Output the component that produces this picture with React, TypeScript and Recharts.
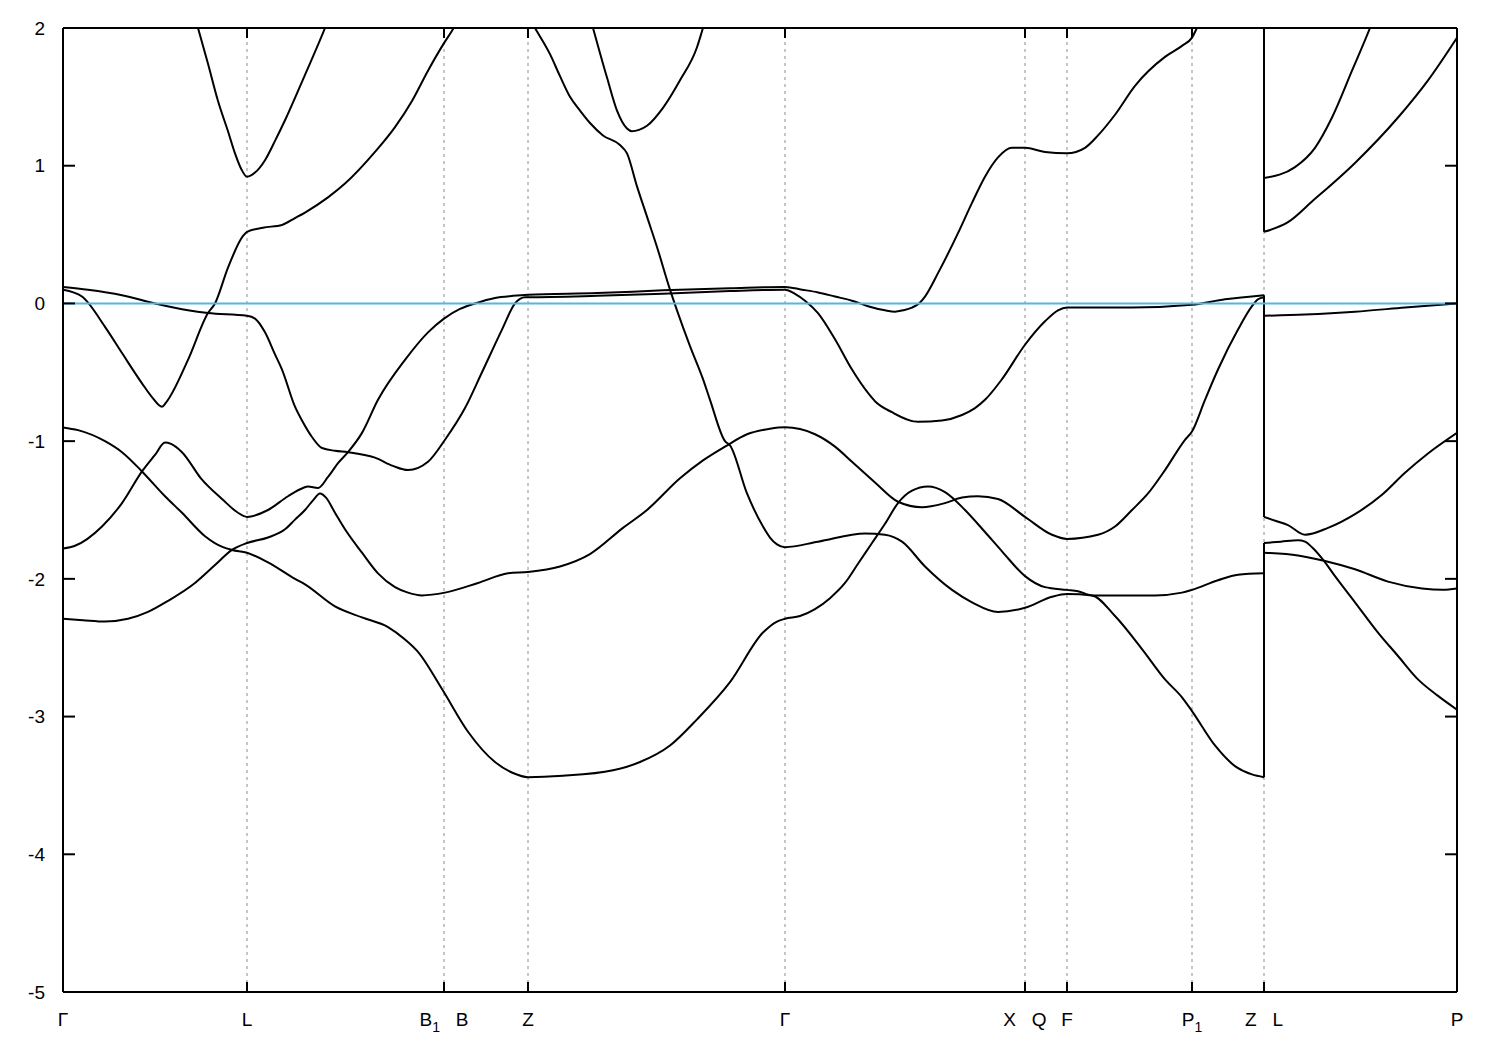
import React from 'react';
import { LineChart, Line, XAxis, YAxis, CartesianGrid, ReferenceLine } from 'recharts';

// ============================================================================
// Data (k in path units along the high-symmetry path, E in eV)
// ============================================================================

type Pt = [number, number];

const kTicks = [0, 184, 381, 465, 722, 962, 1004, 1129, 1201, 1394];
const kLabels = ['Γ', 'L', 'B_1\u00a0\u00a0\u00a0B', 'Z', 'Γ', 'X\u00a0\u00a0\u00a0Q', 'F', 'P_1', 'Z\u00a0\u00a0\u00a0L', 'P'];
const energyTicks = [-5, -4, -3, -2, -1, 0, 1, 2];
const energyRange: [number, number] = [-5, 2];
const kRange: [number, number] = [0, 1394];
const fermiLevel = 0;

// Γ -> ... -> Z (left of the Z|L discontinuity)
const condTop: Pt[] = [
  [115, 2.5], [135, 2.0], [145, 1.74], [155, 1.47], [165, 1.25], [172, 1.09], [178, 0.98], [184, 0.92],
  [192, 0.95], [202, 1.04], [212, 1.18], [222, 1.33], [242, 1.66], [262, 2.0], [275, 2.25]
];

const band1: Pt[] = [
  [0, 0.10], [19, 0.05], [42, -0.17], [59, -0.36], [79, -0.58], [89, -0.68], [99, -0.75], [103, -0.72],
  [125, -0.41], [145, -0.07], [152, 0.0], [165, 0.26], [180, 0.49], [184, 0.52],
  [200, 0.55], [219, 0.57], [232, 0.62], [242, 0.66], [265, 0.77], [282, 0.87], [312, 1.10], [332, 1.28],
  [349, 1.47], [365, 1.69], [381, 1.89], [389, 1.98], [400, 2.12]
];

const band2: Pt[] = [
  [0, 0.12], [25, 0.10], [59, 0.06], [92, 0.0], [125, -0.05], [145, -0.07], [184, -0.09], [192, -0.11],
  [202, -0.21], [212, -0.37], [219, -0.48], [232, -0.75], [239, -0.85], [249, -0.97], [259, -1.05],
  [272, -1.07], [285, -1.08], [312, -1.12], [330, -1.18], [345, -1.21], [365, -1.15], [382, -0.99],
  [402, -0.76], [419, -0.50], [439, -0.19], [452, 0.0], [462, 0.045], [465, 0.045],
  [534, 0.055], [600, 0.07], [667, 0.09], [722, 0.10],
  [732, 0.07], [742, 0.02], [755, -0.07], [772, -0.26], [789, -0.48], [805, -0.65], [812, -0.71],
  [829, -0.79], [855, -0.86], [879, -0.85], [899, -0.81], [912, -0.76], [922, -0.70], [939, -0.55],
  [962, -0.30], [982, -0.13], [995, -0.05], [1004, -0.03], [1069, -0.03], [1129, -0.01], [1162, 0.03],
  [1201, 0.06]
];

const band3: Pt[] = [
  [0, -1.78], [12, -1.76], [39, -1.62], [59, -1.45], [79, -1.22], [92, -1.10], [102, -1.01], [108, -1.02],
  [119, -1.08], [139, -1.28], [159, -1.42], [175, -1.52], [184, -1.55], [205, -1.50], [225, -1.40],
  [240, -1.34], [245, -1.33], [255, -1.34], [265, -1.26], [275, -1.16], [285, -1.08], [299, -0.94],
  [315, -0.70], [342, -0.41], [365, -0.21], [381, -0.11], [397, -0.04], [412, 0.0], [432, 0.04],
  [450, 0.055], [465, 0.063], [534, 0.075], [600, 0.095], [667, 0.11], [722, 0.12],
  [739, 0.10], [755, 0.08], [772, 0.05], [789, 0.02], [805, -0.02], [822, -0.05], [832, -0.06],
  [840, -0.05], [849, -0.03], [856, 0.0], [862, 0.05], [875, 0.22], [895, 0.51], [909, 0.73],
  [922, 0.92], [935, 1.06], [949, 1.13], [962, 1.13], [982, 1.10], [1004, 1.09], [1022, 1.13],
  [1035, 1.22], [1052, 1.37], [1072, 1.58], [1102, 1.79], [1119, 1.87], [1129, 1.93], [1134, 2.0],
  [1160, 2.25], [1201, 2.5]
];

const band4: Pt[] = [
  [0, -2.29], [20, -2.30], [42, -2.31], [65, -2.29], [85, -2.24], [105, -2.16], [132, -2.03],
  [152, -1.90], [169, -1.79], [184, -1.74], [205, -1.70], [222, -1.64], [232, -1.57], [242, -1.50],
  [250, -1.43], [257, -1.38], [263, -1.41], [272, -1.52], [282, -1.64], [299, -1.81], [315, -1.96],
  [332, -2.06], [345, -2.10], [359, -2.12], [382, -2.10], [415, -2.03], [445, -1.96], [465, -1.95],
  [497, -1.91], [527, -1.82], [560, -1.63], [584, -1.50], [617, -1.27], [640, -1.14], [662, -1.04],
  [684, -0.95], [707, -0.91], [722, -0.90], [752, -0.95], [772, -1.04], [789, -1.15], [812, -1.30],
  [835, -1.44], [859, -1.48], [882, -1.45], [899, -1.41], [915, -1.40], [935, -1.42], [962, -1.55],
  [989, -1.68], [1004, -1.71], [1035, -1.68], [1052, -1.62], [1069, -1.50], [1085, -1.38],
  [1102, -1.21], [1122, -0.99], [1129, -0.93], [1142, -0.70], [1155, -0.48], [1175, -0.19],
  [1189, -0.02], [1195, 0.03], [1201, 0.045]
];

const band5: Pt[] = [
  [0, -0.90], [15, -0.92], [42, -1.0], [59, -1.08], [79, -1.22], [102, -1.40], [119, -1.52],
  [142, -1.69], [160, -1.77], [169, -1.79], [184, -1.81], [205, -1.88], [232, -2.0], [242, -2.04],
  [272, -2.20], [299, -2.28], [325, -2.35], [342, -2.44], [355, -2.53], [379, -2.80], [405, -3.11],
  [432, -3.33], [450, -3.41], [465, -3.44], [500, -3.43], [550, -3.39], [577, -3.33], [607, -3.21],
  [634, -3.02], [667, -2.75], [700, -2.39], [714, -2.31], [722, -2.29], [737, -2.27], [752, -2.22],
  [767, -2.14], [782, -2.03], [795, -1.89], [809, -1.74], [822, -1.60], [835, -1.45], [849, -1.36],
  [865, -1.33], [882, -1.37], [902, -1.50], [922, -1.66], [939, -1.80], [962, -1.98], [982, -2.06],
  [1004, -2.08], [1015, -2.09], [1029, -2.12], [1060, -2.12], [1092, -2.12], [1119, -2.10],
  [1129, -2.08], [1155, -2.01], [1175, -1.97], [1201, -1.96]
];

const band6: Pt[] = [
  [440, 2.45], [465, 2.09], [472, 2.0], [487, 1.81], [497, 1.65], [507, 1.50], [517, 1.40],
  [527, 1.31], [540, 1.22], [557, 1.15], [564, 1.09], [574, 0.85], [584, 0.63], [594, 0.41],
  [607, 0.10], [614, -0.05], [627, -0.31], [640, -0.55], [647, -0.70], [662, -1.0], [667, -1.03],
  [684, -1.38], [700, -1.62], [707, -1.70], [714, -1.75], [722, -1.77], [755, -1.73], [802, -1.67],
  [822, -1.68], [839, -1.73], [862, -1.91], [889, -2.08], [909, -2.17], [935, -2.24], [962, -2.21],
  [989, -2.13], [1004, -2.11], [1029, -2.12], [1052, -2.27], [1079, -2.51], [1102, -2.73],
  [1119, -2.86], [1129, -2.96], [1152, -3.21], [1172, -3.36], [1189, -3.42], [1201, -3.44]
];

const condArc: Pt[] = [
  [520, 2.26], [530, 2.0], [544, 1.64], [554, 1.40], [564, 1.27], [569, 1.25], [576, 1.26],
  [584, 1.29], [600, 1.42], [617, 1.62], [634, 1.86], [640, 2.0], [650, 2.23]
];

// L -> P (right of the Z|L discontinuity)
const lp1: Pt[] = [[1201, 0.91], [1232, 0.99], [1252, 1.13], [1269, 1.35], [1289, 1.69], [1307, 2.0], [1320, 2.25]];
const lp2: Pt[] = [[1201, 0.52], [1225, 0.59], [1249, 0.74], [1292, 1.02], [1335, 1.35], [1365, 1.62], [1394, 1.93]];
const lp3: Pt[] = [[1201, -0.09], [1242, -0.08], [1292, -0.06], [1342, -0.03], [1394, 0.0]];
const lp4: Pt[] = [
  [1201, -1.55], [1213, -1.58], [1225, -1.61], [1242, -1.68], [1265, -1.63], [1292, -1.53],
  [1319, -1.39], [1342, -1.23], [1365, -1.09], [1394, -0.94]
];
const lp5: Pt[] = [
  [1201, -1.74], [1218, -1.73], [1235, -1.72], [1242, -1.73], [1249, -1.77], [1260, -1.86],
  [1272, -1.98], [1292, -2.17], [1315, -2.39], [1335, -2.56], [1355, -2.73], [1375, -2.85], [1394, -2.95]
];
const lp6: Pt[] = [
  [1201, -1.81], [1235, -1.83], [1262, -1.87], [1292, -1.93], [1325, -2.02], [1359, -2.07],
  [1380, -2.08], [1394, -2.07]
];

// which band end at Z is joined to which band start at L
const zlJoins: [Pt[], Pt[]][] = [
  [band3, lp2],
  [band2, lp3],
  [band4, lp4],
  [band5, lp6],
  [band6, lp5]
];

const allBands = [condTop, band1, band2, band3, band4, band5, band6, condArc, lp1, lp2, lp3, lp4, lp5, lp6];

// ============================================================================
// Helpers
// ============================================================================

const FONT = '"Liberation Sans", Arial, Helvetica, sans-serif';
const toRows = (pts: Pt[]) => pts.map(([k, e]) => ({ k, e }));

const renderLabel = (label: string) => {
  const out: React.ReactNode[] = [];
  let i = 0;
  let sub = false;
  while (i < label.length) {
    if (label[i] === '_') {
      out.push(<tspan key={i} dy={6} fontSize={14}>{label[i + 1]}</tspan>);
      sub = true;
      i += 2;
    } else {
      let j = i;
      while (j < label.length && label[j] !== '_') j++;
      out.push(<tspan key={i} dy={sub ? -6 : 0}>{label.slice(i, j)}</tspan>);
      sub = false;
      i = j;
    }
  }
  return out;
};

const BottomTick = ({ x, y, payload }: any) => {
  const idx = kTicks.indexOf(payload.value);
  return (
    <g>
      <line x1={x} x2={x} y1={y} y2={y - 10} stroke="#000" strokeWidth={2} />
      <text x={x} y={y + 34} textAnchor="middle" fontSize={19} fontFamily={FONT} fill="#000">
        {renderLabel(kLabels[idx] ?? '')}
      </text>
    </g>
  );
};

const TopTick = ({ x, y }: any) => (
  <line x1={x} x2={x} y1={y} y2={y + 10} stroke="#000" strokeWidth={2} />
);

const LeftTick = ({ x, y, payload }: any) => (
  <g>
    <line x1={x} x2={x + 12} y1={y} y2={y} stroke="#000" strokeWidth={2} />
    <text x={x - 18} y={y} dy="0.35em" textAnchor="end" fontSize={19} fontFamily={FONT} fill="#000">
      {payload.value}
    </text>
  </g>
);

const RightTick = ({ x, y }: any) => (
  <line x1={x - 12} x2={x} y1={y} y2={y} stroke="#000" strokeWidth={2} />
);

// ============================================================================
// Component
// ============================================================================

export default function App() {
  const frame = { stroke: '#000', strokeWidth: 2 };
  return (
    <div style={{ position: 'absolute', left: 0, top: 0, width: 1500, height: 1050, background: '#fff' }}>
      <LineChart width={1500} height={1050} margin={{ top: 0, right: 0, bottom: 0, left: 0 }}>
        <CartesianGrid horizontal={false} stroke="#8c8c8c" strokeDasharray="3 4" />

        <XAxis
          dataKey="k"
          type="number"
          domain={kRange}
          allowDataOverflow
          ticks={kTicks}
          interval={0}
          height={58}
          tickSize={0}
          tickMargin={0}
          tickLine={false}
          axisLine={frame}
          tick={<BottomTick />}
        />
        <XAxis
          xAxisId="t"
          orientation="top"
          dataKey="k"
          type="number"
          domain={kRange}
          allowDataOverflow
          ticks={kTicks}
          interval={0}
          height={28}
          tickSize={0}
          tickMargin={0}
          tickLine={false}
          axisLine={frame}
          tick={<TopTick />}
        />
        <YAxis
          type="number"
          domain={energyRange}
          allowDataOverflow
          ticks={energyTicks}
          interval={0}
          width={63}
          tickSize={0}
          tickMargin={0}
          tickLine={false}
          axisLine={frame}
          tick={<LeftTick />}
        />
        <YAxis
          yAxisId="r"
          orientation="right"
          type="number"
          domain={energyRange}
          allowDataOverflow
          ticks={energyTicks}
          interval={0}
          width={43}
          tickSize={0}
          tickMargin={0}
          tickLine={false}
          axisLine={frame}
          tick={<RightTick />}
        />

        {allBands.map((band, i) => (
          <Line
            key={`band-${i}`}
            data={toRows(band)}
            dataKey="e"
            type="monotone"
            stroke="#000"
            strokeWidth={2}
            dot={false}
            activeDot={false}
            isAnimationActive={false}
          />
        ))}

        {zlJoins.map(([left, right], i) => (
          <Line
            key={`join-${i}`}
            data={toRows([left[left.length - 1], right[0]])}
            dataKey="e"
            type="linear"
            stroke="#000"
            strokeWidth={2}
            dot={false}
            activeDot={false}
            isAnimationActive={false}
          />
        ))}

        <ReferenceLine y={fermiLevel} stroke="#56b4e9" strokeWidth={2} />
      </LineChart>
    </div>
  );
}
